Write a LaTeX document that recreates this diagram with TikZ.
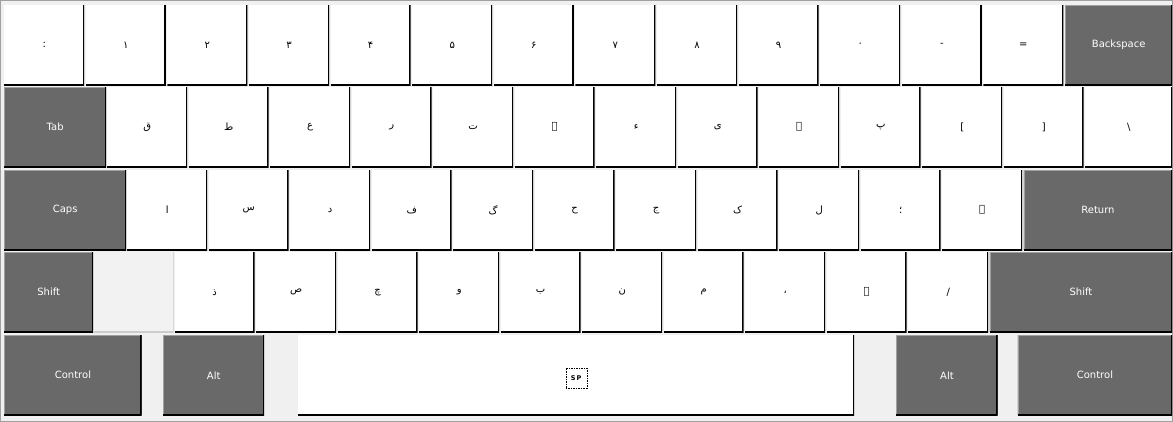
\documentclass[tikz,border=0pt]{standalone}
\usepackage{fontspec}
\newfontfamily\keyfont{DejaVu Sans}
\newfontfamily\urdufont[Script=Arabic]{DejaVu Sans}
\TeXXeTstate=1
\newcommand{\ur}[1]{{\urdufont\beginR #1\endR}}
\definecolor{keygray}{HTML}{696969}
\definecolor{panel}{HTML}{F0F0F0}
\definecolor{keyedge}{HTML}{A0A0A0}

\begin{document}
\begin{tikzpicture}[x=1pt,y=-1pt]
\tikzset{key/.style = {shape=rectangle, anchor=north west, inner sep=0pt, fill=white,
  minimum width=80pt, minimum height=80pt, font=\keyfont\fontsize{10}{12}\selectfont,
  path picture={\draw[line width=3pt,black] (path picture bounding box.south west)
    -- (path picture bounding box.south east) -- (path picture bounding box.north east);}}}
\tikzset{modkey/.style = {key, fill=keygray, text=white,
  path picture={\draw[line width=2pt,keyedge] (path picture bounding box.south west)
    -- (path picture bounding box.north west) -- (path picture bounding box.north east);
    \draw[line width=3pt,black] (path picture bounding box.south west)
    -- (path picture bounding box.south east) -- (path picture bounding box.north east);}}}
\tikzset{blankkey/.style = {key, fill=gray!10,
  path picture={\draw[line width=2pt,gray!40] (path picture bounding box.south west)
    -- (path picture bounding box.south east) -- (path picture bounding box.north east);}}}
\useasboundingbox (0,0) rectangle (1173,422);
\fill[panel] (0,0) rectangle (1173,422);
\draw[keyedge] (0.5,0.5) rectangle (1172.5,421.5);
% number row
\node[key] (grave) at (4,5)       {\ur{:}};
\node[key] (one)   at (85.6,5)    {\ur{۱}};
\node[key] (two)   at (167.2,5)   {\ur{۲}};
\node[key] (three) at (248.8,5)   {\ur{۳}};
\node[key] (four)  at (330.4,5)   {\ur{۴}};
\node[key] (five)  at (412,5)     {\ur{۵}};
\node[key] (six)   at (493.6,5)   {\ur{۶}};
\node[key] (seven) at (575.2,5)   {\ur{۷}};
\node[key] (eight) at (656.8,5)   {\ur{۸}};
\node[key] (nine)  at (738.4,5)   {\ur{۹}};
\node[key] (zero)  at (820,5)     {\ur{۰}};
\node[key] (minus) at (901.6,5)   {-};
\node[key] (equal) at (983.2,5)   {=};
\node[modkey, minimum width=107pt] (bksp) at (1065,5) {Backspace};
% top letter row
\node[modkey, minimum width=102pt] (tab) at (4,87) {Tab};
\node[key] (q)      at (107,87)    {\ur{ق}};
\node[key] (w)      at (188.5,87)  {\ur{ط}};
\node[key] (e)      at (270,87)    {\ur{ع}};
\node[key] (r)      at (351.5,87)  {\ur{ر}};
\node[key] (t)      at (433,87)    {\ur{ت}};
\node[key] (y)      at (514.5,87)  {\ur{ے}};
\node[key] (u)      at (596,87)    {\ur{ء}};
\node[key] (i)      at (677.5,87)  {\ur{ی}};
\node[key] (o)      at (759,87)    {\ur{ہ}};
\node[key] (p)      at (840.5,87)  {\ur{پ}};
\node[key] (lbrack) at (922,87)    {[};
\node[key] (rbrack) at (1003.5,87) {]};
\node[key, minimum width=87pt] (bslash) at (1085,87) {\textbackslash};
% home row
\node[modkey, minimum width=122pt] (caps) at (4,170) {Caps};
\node[key] (a)     at (127,170)   {\ur{ا}};
\node[key] (s)     at (208.5,170) {\ur{س}};
\node[key] (d)     at (290,170)   {\ur{د}};
\node[key] (f)     at (371.5,170) {\ur{ف}};
\node[key] (g)     at (453,170)   {\ur{گ}};
\node[key] (h)     at (534.5,170) {\ur{ح}};
\node[key] (j)     at (616,170)   {\ur{ج}};
\node[key] (k)     at (697.5,170) {\ur{ک}};
\node[key] (l)     at (779,170)   {\ur{ل}};
\node[key] (semi)  at (860.5,170) {\ur{؛}};
\node[key] (quote) at (942,170)   {\ur{ۃ}};
\node[modkey, minimum width=148.5pt] (return) at (1023.5,170) {Return};
% bottom letter row
\node[modkey, minimum width=89pt] (lshift) at (4,252) {Shift};
\node[blankkey] (blank) at (93.5,252) {};
\node[key] (z)      at (174.5,252) {\ur{ذ}};
\node[key] (x)      at (256,252)   {\ur{ص}};
\node[key] (c)      at (337.5,252) {\ur{چ}};
\node[key] (v)      at (419,252)   {\ur{و}};
\node[key] (b)      at (500.5,252) {\ur{ب}};
\node[key] (n)      at (582,252)   {\ur{ن}};
\node[key] (m)      at (663.5,252) {\ur{م}};
\node[key] (comma)  at (745,252)   {\ur{،}};
\node[key] (period) at (826.5,252) {\ur{۔}};
\node[key] (slash)  at (908,252)   {/};
\node[modkey, minimum width=182.5pt] (rshift) at (989.5,252) {Shift};
% space row
\node[modkey, minimum width=137.5pt] (lctrl) at (4,335) {Control};
\node[modkey, minimum width=101pt]   (lalt)  at (163,335) {Alt};
\node[key, minimum width=556pt]      (space) at (298,335) {};
\node[modkey, minimum width=101.5pt] (ralt)  at (896,335) {Alt};
\node[modkey, minimum width=154.5pt] (rctrl) at (1017.5,335) {Control};
\node[draw, dash pattern=on 1.5pt off 1pt, inner sep=0pt, minimum width=21pt, minimum height=20pt,
  font=\keyfont\bfseries\fontsize{6.5}{8}\selectfont] (sp) at ([yshift=-3pt]space.center) {S\,P};
\end{tikzpicture}
\end{document}
